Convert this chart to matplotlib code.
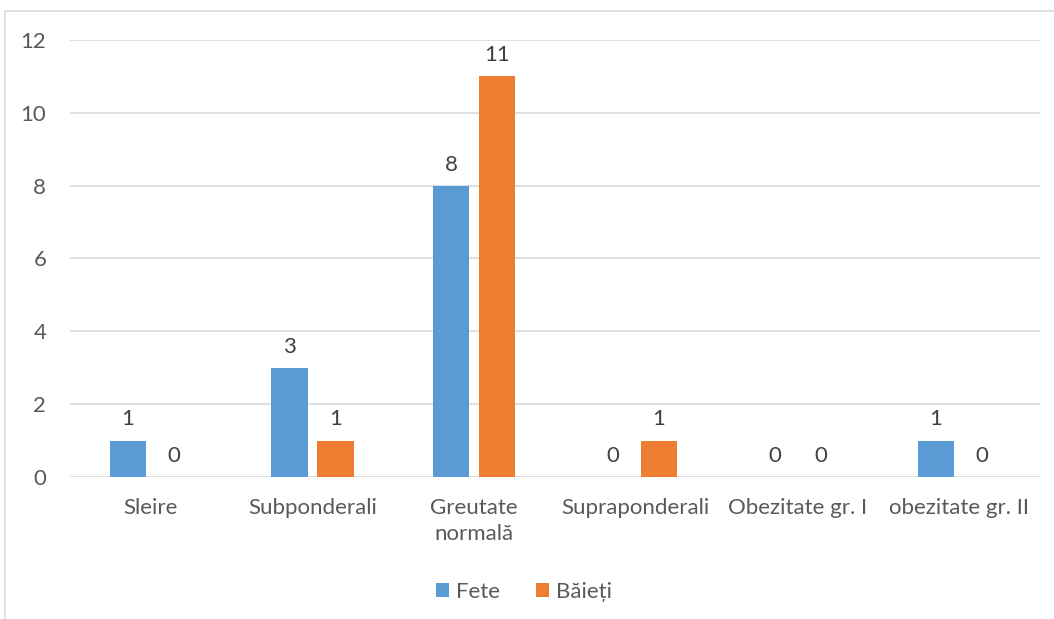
import matplotlib.pyplot as plt
import numpy as np
from matplotlib.patches import Rectangle

plt.rcParams['font.family'] = ['Lato', 'DejaVu Sans']

# Date
categorii = ['Sleire', 'Subponderali', 'Greutate\nnormală', 'Supraponderali',
             'Obezitate gr. I', 'obezitate gr. II']
fete = [1, 3, 8, 0, 0, 1]
baieti = [0, 1, 11, 1, 0, 0]

fig = plt.figure(figsize=(10.54, 6.19), dpi=100)
ax = fig.add_axes([0.0664, 0.2294, 0.9203, 0.706])

# chenar exterior
fig.patches.append(Rectangle((5 / 1054, -0.1), 1.2, 1 - 11 / 619 + 0.1,
                             transform=fig.transFigure, fill=False,
                             edgecolor='#d9d9d9', linewidth=1.2))

x = np.arange(len(categorii))
w = 0.225
off = 0.143
b1 = ax.bar(x - off, fete, w, color='#5b9bd5', label='Fete', zorder=3)
b2 = ax.bar(x + off, baieti, w, color='#ed7d31', label='Băieți', zorder=3)

for bars in (b1, b2):
    for b in bars:
        h = b.get_height()
        ax.annotate(str(int(h)), (b.get_x() + b.get_width() / 2, h),
                    xytext=(0, 8), textcoords='offset points',
                    ha='center', va='bottom', fontsize=16, color='#404040')

ax.set_xlim(-0.5, len(categorii) - 0.5)
ax.set_ylim(0, 12)
ax.set_yticks(range(0, 13, 2))
ax.set_xticks(x)
ax.set_xticklabels(categorii, linespacing=1.4)
ax.tick_params(length=0, labelsize=16, colors='#595959')
ax.tick_params(axis='x', pad=15)
ax.tick_params(axis='y', pad=17)
ax.grid(axis='y', color='#d9d9d9', linewidth=1.2, zorder=0)
for s in ax.spines.values():
    s.set_visible(False)

fig.legend(loc='center', bbox_to_anchor=(0.497, 1 - 592 / 619), ncol=2,
           frameon=False, fontsize=16, handlelength=0.6, handleheight=0.6,
           handletextpad=0.3, columnspacing=1.6, labelcolor='#595959')

fig.savefig('out.png', dpi=100)
